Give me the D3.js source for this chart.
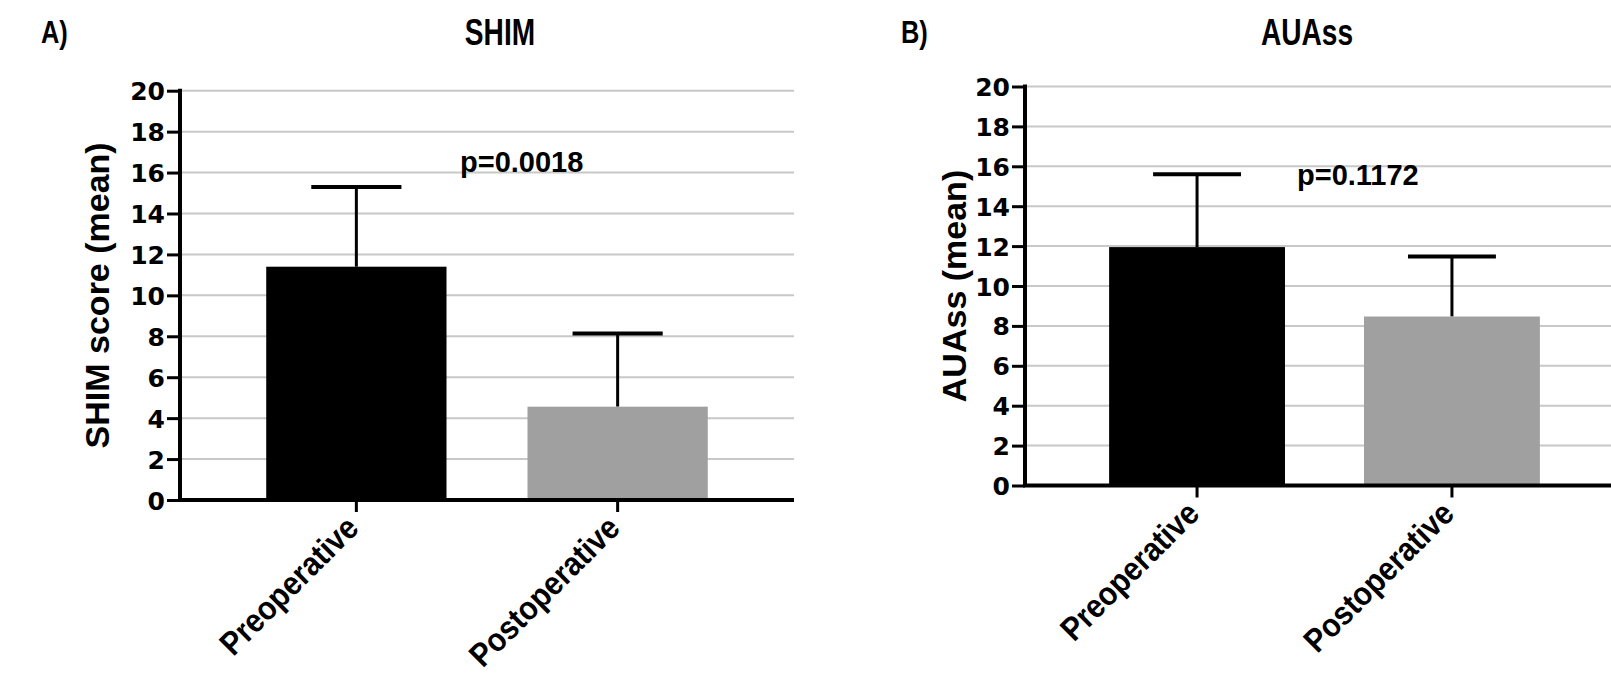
<!DOCTYPE html>
<html>
<head>
<meta charset="utf-8">
<script src="https://cdn.jsdelivr.net/npm/d3@7"></script>
<style>
  body { margin: 0; background: #fff; }
  text { font-family: "Liberation Sans", Arial, sans-serif; font-weight: bold; fill: #000; }
</style>
</head>
<body>
<svg id="chart" width="1611" height="684"></svg>
<script>
// data
var categories = ["Preoperative", "Postoperative"];
var yTicks = [0, 2, 4, 6, 8, 10, 12, 14, 16, 18, 20];

var shimMeans = [11.4, 4.56];
var shimSD = [3.9, 3.58];

var auaMeans = [11.95, 8.47];
var auaSD = [3.65, 3.01];

var barColors = ["#000000", "#a0a0a0"];

var svg = d3.select("#chart");

// one panel of the figure
function drawPanel(p) {
  var g = svg.append("g");

  var x = d3.scaleBand()
    .domain(categories)
    .range([p.left, p.right])
    .paddingInner(0.31)
    .paddingOuter(0.33);

  var y = d3.scaleLinear()
    .domain([0, 20])
    .range([p.bottom, p.top]);

  // grid lines
  g.selectAll(".grid")
    .data(yTicks.filter(function(d) { return d > 0; }))
    .enter().append("line")
    .attr("x1", p.left)
    .attr("x2", p.right)
    .attr("y1", function(d) { return y(d); })
    .attr("y2", function(d) { return y(d); })
    .attr("stroke", "#c8c8c8")
    .attr("stroke-width", 2);

  // error bars (upper only)
  var err = g.selectAll(".err")
    .data(categories)
    .enter().append("g");
  err.append("line")
    .attr("x1", function(d) { return x(d) + x.bandwidth() / 2; })
    .attr("x2", function(d) { return x(d) + x.bandwidth() / 2; })
    .attr("y1", function(d, i) { return y(p.means[i]); })
    .attr("y2", function(d, i) { return y(p.means[i] + p.sd[i]); })
    .attr("stroke", "#000")
    .attr("stroke-width", 3);
  err.append("line")
    .attr("x1", function(d) { return x(d) + x.bandwidth() / 4; })
    .attr("x2", function(d) { return x(d) + x.bandwidth() * 3 / 4; })
    .attr("y1", function(d, i) { return y(p.means[i] + p.sd[i]); })
    .attr("y2", function(d, i) { return y(p.means[i] + p.sd[i]); })
    .attr("stroke", "#000")
    .attr("stroke-width", 4);

  // bars
  g.selectAll(".bar")
    .data(categories)
    .enter().append("rect")
    .attr("x", function(d) { return x(d); })
    .attr("width", x.bandwidth())
    .attr("y", function(d, i) { return y(p.means[i]); })
    .attr("height", function(d, i) { return y(0) - y(p.means[i]); })
    .attr("fill", function(d, i) { return barColors[i]; });

  // y axis
  var yAxis = g.append("g")
    .attr("transform", "translate(" + p.left + ",0)")
    .call(d3.axisLeft(y).tickValues(yTicks).tickSize(13).tickPadding(2));
  yAxis.select(".domain").attr("stroke", "#000").attr("stroke-width", 4)
    .attr("d", "M0," + (p.top - 2) + "V" + p.bottom);
  yAxis.selectAll(".tick line").attr("stroke-width", 3);
  yAxis.selectAll(".tick text")
    .style("font-family", "'DejaVu Sans', sans-serif")
    .style("font-size", "25px")
    .attr("dy", "0.36em");

  // x axis
  var xAxis = g.append("g")
    .attr("transform", "translate(0," + p.bottom + ")")
    .call(d3.axisBottom(x).tickSize(12).tickPadding(0));
  xAxis.select(".domain").attr("stroke", "#000").attr("stroke-width", 4)
    .attr("d", "M" + (p.left - 2) + ",0H" + p.right);
  xAxis.selectAll(".tick line").attr("stroke-width", 3);
  xAxis.selectAll(".tick text")
    .style("font-size", "33px")
    .attr("text-anchor", "end")
    .attr("y", 0)
    .attr("dy", 0)
    .attr("transform", "translate(4,30) rotate(-45) scale(0.9,1)");

  // y title
  g.append("text")
    .attr("transform", "translate(" + p.yTitleX + "," + (p.top + p.bottom) / 2 + ") rotate(-90)")
    .attr("text-anchor", "middle")
    .style("font-size", "34px")
    .text(p.yTitle);

  // panel letter and title
  g.append("text")
    .attr("transform", "translate(" + p.letterX + ",43) scale(0.82,1)")
    .style("font-size", "31px")
    .text(p.letter);
  g.append("text")
    .attr("transform", "translate(" + p.titleX + ",45) scale(0.76,1)")
    .attr("text-anchor", "middle")
    .style("font-size", "37px")
    .text(p.title);

  // p value
  g.append("text")
    .attr("x", p.pX)
    .attr("y", p.pY)
    .style("font-size", "29px")
    .text(p.pText);
}

drawPanel({
  left: 180, right: 794, top: 90.7, bottom: 500,
  means: shimMeans, sd: shimSD,
  yTitle: "SHIM score (mean)", yTitleX: 109,
  letter: "A)", letterX: 41,
  title: "SHIM", titleX: 500,
  pText: "p=0.0018", pX: 460, pY: 172
});

drawPanel({
  left: 1025, right: 1624, top: 86.5, bottom: 485.5,
  means: auaMeans, sd: auaSD,
  yTitle: "AUAss (mean)", yTitleX: 966,
  letter: "B)", letterX: 901,
  title: "AUAss", titleX: 1307,
  pText: "p=0.1172", pX: 1297, pY: 185
});
</script>
</body>
</html>
